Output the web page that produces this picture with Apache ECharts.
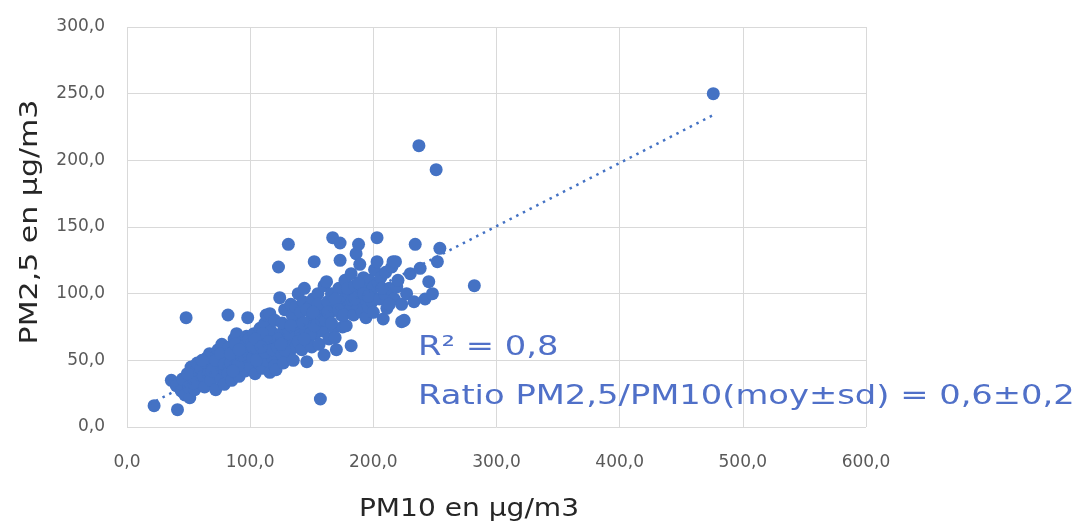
<!DOCTYPE html>
<html><head><meta charset="utf-8">
<script src="https://cdn.jsdelivr.net/npm/echarts@6/dist/echarts.min.js"></script>
<style>html,body{margin:0;padding:0;background:#fff}#c{width:1084px;height:529px}</style>
</head><body><div id="c"></div>
<script>
// [PM10, PM2.5] pairs (µg/m3)
const samples = [
[22,16],[41,13],[36,35],[40,31],[44,27],[47,24],[51,22],[45,36],[50,30],[53,38],[55,28],[52,45],[56,42],[58,34],[48,82],[57,48],[54,33],[49,40],
[60,44],[62,38],[63,30],[64,48],[66,40],[67,55],[68,35],[70,45],[71,52],[72,28],[73,40],[74,58],[75,48],[76,36],[77,62],[78,44],[79,32],[80,53],[65,52],[69,42],[72,50],[76,55],[79,47],[61,50],
[82,84],[82,40],[83,60],[84,48],[85,35],[86,56],[87,66],[88,44],[89,70],[90,52],[91,38],[92,60],[93,46],[94,64],[95,55],[96,42],[97,68],[98,50],[99,58],[100,45],[98,82],[84,55],[88,62],[90,46],[93,54],[96,61],[99,66],[86,42],[91,58],
[101,62],[102,52],[103,70],[104,40],[105,58],[106,66],[107,48],[108,74],[109,55],[110,44],[111,62],[112,78],[113,84],[113,50],[114,68],[115,58],[116,41],[116,85],[117,72],[118,52],[119,64],[120,46],[120,80],[102,60],[105,50],[107,64],[110,70],[112,56],[115,64],[118,58],[104,66],[109,60],
[121,43],[122,60],[123,120],[124,97],[125,70],[126,54],[127,48],[128,88],[129,62],[130,76],[131,137],[132,56],[133,92],[134,68],[135,50],[136,82],[137,60],[138,74],[139,100],[140,66],[123,66],[126,78],[128,58],[131,70],[134,84],[137,90],[139,64],[125,62],[133,76],
[141,86],[142,58],[143,94],[144,104],[145,72],[146,49],[147,64],[148,90],[149,80],[150,60],[151,96],[152,124],[153,70],[154,84],[155,100],[156,62],[157,21],[158,90],[159,72],[160,54],[160,106],[143,78],[146,88],[149,70],[152,76],[155,92],[158,80],[144,66],[151,86],
[161,80],[162,109],[163,94],[164,66],[165,86],[166,100],[167,142],[168,74],[169,67],[170,58],[171,92],[172,104],[173,125],[173,138],[174,84],[175,75],[176,96],[177,110],[178,76],[179,90],[180,100],[163,86],[166,78],[169,96],[172,88],[176,84],[179,104],[182,115],
[182,61],[183,95],[184,84],[185,106],[186,130],[187,92],[188,137],[189,122],[190,100],[191,86],[192,112],[193,96],[194,82],[195,104],[196,90],[197,110],[198,100],[199,94],[200,105],[185,96],[188,108],[192,100],[196,98],
[200,86],[201,118],[203,142],[203,124],[204,108],[205,96],[206,112],[208,81],[209,100],[210,116],[211,89],[213,104],[215,120],[216,124],[217,96],[218,124],[219,105],[220,110],[207,104],[213,92],
[223,92],[223,79],[225,80],[227,100],[230,115],[233,94],[234,137],[237,211],[238,119],[242,96],[245,109],[251,193],[252,124],[254,134],[248,100],[282,106],[476,250]
];
const pm10 = samples.map(p => p[0]);
const pm25 = samples.map(p => p[1]);
// linear trend endpoints
const trendPm10 = [18, 476];
const trendPm25 = [17, 234];
const xTicks = [0, 600, 100];
const yTicks = [0, 300, 50];
const xTitle = 'PM10 en µg/m3';
const yTitle = 'PM2,5 en µg/m3';
const note1 = 'R² = 0,8';
const note2 = 'Ratio PM2,5/PM10(moy±sd) = 0,6±0,2';

const fmt = v => v.toFixed(1).replace('.', ',');
const grid = '#d9d9d9';
const chart = echarts.init(document.getElementById('c'), null, {renderer: 'canvas'});
chart.setOption({
  animation: false,
  backgroundColor: '#fff',
  grid: {left: 127, right: 218, top: 27, bottom: 102},
  xAxis: {
    type: 'value', min: xTicks[0], max: xTicks[1], interval: xTicks[2],
    axisLine: {show: false}, axisTick: {show: false},
    splitLine: {show: true, lineStyle: {color: grid, width: 1}},
    axisLabel: {formatter: fmt, color: '#595959', fontFamily: 'DejaVu Sans', fontSize: 17, margin: 24, padding: [3, 0, 0, 0]}
  },
  yAxis: {
    type: 'value', min: yTicks[0], max: yTicks[1], interval: yTicks[2],
    axisLine: {show: false}, axisTick: {show: false},
    splitLine: {show: true, lineStyle: {color: grid, width: 1}},
    axisLabel: {formatter: fmt, color: '#595959', fontFamily: 'DejaVu Sans', fontSize: 17, margin: 22}
  },
  series: [
    {
      type: 'scatter', symbolSize: 13,
      itemStyle: {color: '#4472c4', opacity: 1},
      data: pm10.map((x, i) => [x, pm25[i]]), z: 2
    },
    {
      type: 'line', symbol: 'none', z: 3,
      lineStyle: {color: '#4472c4', width: 2.5, type: [2.5, 5]},
      data: trendPm10.map((x, i) => [x, trendPm25[i]])
    }
  ],
  graphic: [
    {type: 'text', x: 30, y: 222, rotation: Math.PI / 2, scaleX: 1.2, z: 10,
     style: {text: yTitle, fill: '#262626', font: '25px "DejaVu Sans"', align: 'center', verticalAlign: 'middle'}},
    {type: 'text', x: 469, y: 510, scaleX: 1.17, z: 10,
     style: {text: xTitle, fill: '#262626', font: '24px "DejaVu Sans"', align: 'center', verticalAlign: 'middle'}},
    {type: 'text', x: 418, y: 348, scaleX: 1.25, z: 10,
     style: {text: note1, fill: '#5070c8', font: '27px "DejaVu Sans"', align: 'left', verticalAlign: 'middle'}},
    {type: 'text', x: 418, y: 397, scaleX: 1.25, z: 10,
     style: {text: note2, fill: '#5070c8', font: '27px "DejaVu Sans"', align: 'left', verticalAlign: 'middle'}}
  ]
});
</script></body></html>
